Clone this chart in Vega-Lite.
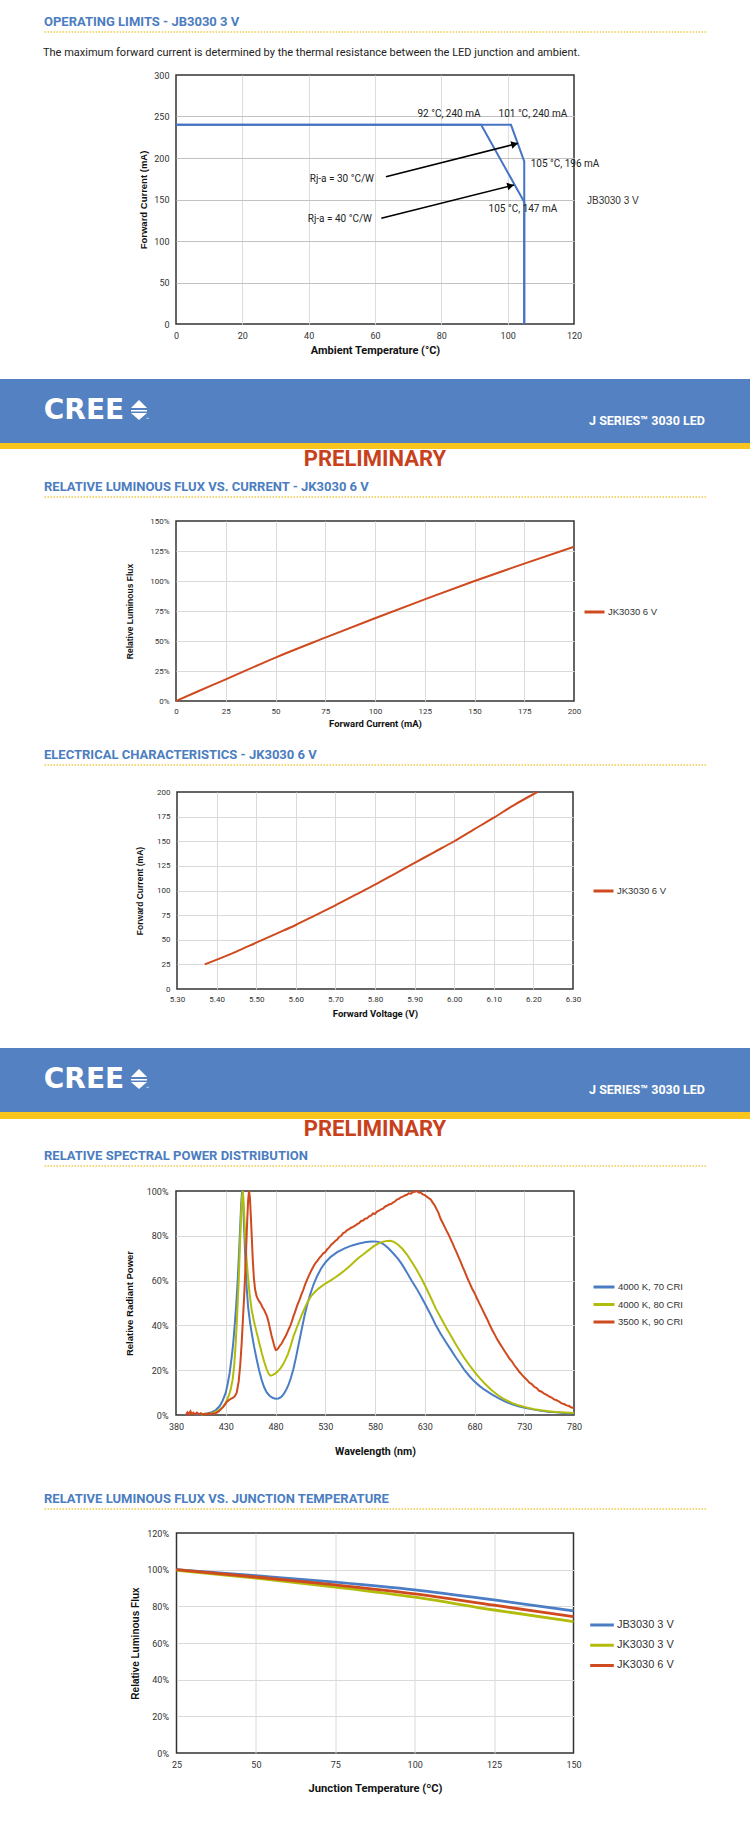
{
"$schema": "https://vega.github.io/schema/vega-lite/v6.json",
"padding": 0,
"background": "#ffffff",
"bounds": "flush",
"center": true,
"spacing": 0,
"resolve": {"scale": {"color": "independent"}, "legend": {"color": "independent"}},
"config": {
  "view": {"stroke": null},
  "font": "Roboto",
  "axis": {"ticks": false, "domain": false, "grid": true, "gridColor": "#dadada", "gridWidth": 1, "labelColor": "#333333", "labelFont": "Roboto", "labelFontSize": 9, "labelFlush": false, "labelOverlap": false, "titleColor": "#111111", "titleFontWeight": "bold"},
  "axisX": {"titleFont": "Roboto"},
  "axisY": {"titleFont": "Liberation Sans, Arial, Helvetica, sans-serif"},
  "legend": {"padding": 0, "symbolType": "stroke", "symbolSize": 400, "symbolStrokeWidth": 3, "labelOffset": 2, "labelFont": "Liberation Sans, Arial, Helvetica, sans-serif", "labelFontSize": 9.5, "labelColor": "#333333", "rowPadding": 7, "clipHeight": 10}
},
"datasets": {
  "limits": [
    {"series": "JB3030 3 V", "rja": "30 °C/W", "idx": 0, "T": 0, "I": 240},
    {"series": "JB3030 3 V", "rja": "30 °C/W", "idx": 1, "T": 101, "I": 240},
    {"series": "JB3030 3 V", "rja": "30 °C/W", "idx": 2, "T": 105, "I": 196},
    {"series": "JB3030 3 V", "rja": "30 °C/W", "idx": 3, "T": 105, "I": 0},
    {"series": "JB3030 3 V", "rja": "40 °C/W", "idx": 0, "T": 0, "I": 240},
    {"series": "JB3030 3 V", "rja": "40 °C/W", "idx": 1, "T": 92, "I": 240},
    {"series": "JB3030 3 V", "rja": "40 °C/W", "idx": 2, "T": 105, "I": 147},
    {"series": "JB3030 3 V", "rja": "40 °C/W", "idx": 3, "T": 105, "I": 0}
  ],
  "limitLabels": [
    {"label": "92 °C, 240 mA", "T": 82.3, "I": 253},
    {"label": "101 °C, 240 mA", "T": 107.6, "I": 253},
    {"label": "105 °C, 196 mA", "T": 117.3, "I": 193},
    {"label": "105 °C, 147 mA", "T": 104.6, "I": 139},
    {"label": "Rj-a = 30 °C/W", "T": 50, "I": 175},
    {"label": "Rj-a = 40 °C/W", "T": 49.4, "I": 126.5}
  ],
  "arrows": [
    {"T": 63.3, "I": 177.5, "T2": 103.1, "I2": 217.7},
    {"T": 61.9, "I": 127.3, "T2": 101.9, "I2": 167.5}
  ],
  "heads": [
    {"T": 102.1, "I": 216.7},
    {"T": 100.9, "I": 166.5}
  ],
  "fluxCurrent": [
    {"series": "JK3030 6 V", "I": 0, "flux": 0},
    {"series": "JK3030 6 V", "I": 10, "flux": 0.073},
    {"series": "JK3030 6 V", "I": 25, "flux": 0.18},
    {"series": "JK3030 6 V", "I": 50, "flux": 0.362},
    {"series": "JK3030 6 V", "I": 75, "flux": 0.528},
    {"series": "JK3030 6 V", "I": 100, "flux": 0.69},
    {"series": "JK3030 6 V", "I": 125, "flux": 0.847},
    {"series": "JK3030 6 V", "I": 150, "flux": 1.0},
    {"series": "JK3030 6 V", "I": 175, "flux": 1.145},
    {"series": "JK3030 6 V", "I": 200, "flux": 1.286}
  ],
  "ivCurve": [
    {"series": "JK3030 6 V", "V": 5.37, "I": 25},
    {"series": "JK3030 6 V", "V": 5.45, "I": 38},
    {"series": "JK3030 6 V", "V": 5.5, "I": 47},
    {"series": "JK3030 6 V", "V": 5.55, "I": 56},
    {"series": "JK3030 6 V", "V": 5.6, "I": 65},
    {"series": "JK3030 6 V", "V": 5.65, "I": 75},
    {"series": "JK3030 6 V", "V": 5.7, "I": 85},
    {"series": "JK3030 6 V", "V": 5.75, "I": 95.5},
    {"series": "JK3030 6 V", "V": 5.8, "I": 106},
    {"series": "JK3030 6 V", "V": 5.85, "I": 117},
    {"series": "JK3030 6 V", "V": 5.9, "I": 128},
    {"series": "JK3030 6 V", "V": 5.95, "I": 139},
    {"series": "JK3030 6 V", "V": 6.0, "I": 150},
    {"series": "JK3030 6 V", "V": 6.05, "I": 162},
    {"series": "JK3030 6 V", "V": 6.1, "I": 174},
    {"series": "JK3030 6 V", "V": 6.15, "I": 186.5},
    {"series": "JK3030 6 V", "V": 6.21, "I": 200}
  ],
  "spd": [
    {"s": "4000 K, 70 CRI", "w": 400, "p": 0.002},{"s": "4000 K, 70 CRI", "w": 405, "p": 0.003},{"s": "4000 K, 70 CRI", "w": 410, "p": 0.006},{"s": "4000 K, 70 CRI", "w": 415, "p": 0.011},{"s": "4000 K, 70 CRI", "w": 420, "p": 0.022},{"s": "4000 K, 70 CRI", "w": 424, "p": 0.04},{"s": "4000 K, 70 CRI", "w": 427, "p": 0.065},{"s": "4000 K, 70 CRI", "w": 430, "p": 0.1},{"s": "4000 K, 70 CRI", "w": 432, "p": 0.14},{"s": "4000 K, 70 CRI", "w": 434, "p": 0.19},{"s": "4000 K, 70 CRI", "w": 436, "p": 0.26},{"s": "4000 K, 70 CRI", "w": 437.5, "p": 0.32},{"s": "4000 K, 70 CRI", "w": 439, "p": 0.4},{"s": "4000 K, 70 CRI", "w": 440.5, "p": 0.49},{"s": "4000 K, 70 CRI", "w": 442, "p": 0.6},{"s": "4000 K, 70 CRI", "w": 443.3, "p": 0.72},{"s": "4000 K, 70 CRI", "w": 444.5, "p": 0.84},{"s": "4000 K, 70 CRI", "w": 445.5, "p": 0.94},{"s": "4000 K, 70 CRI", "w": 446.4, "p": 1.0},{"s": "4000 K, 70 CRI", "w": 447.4, "p": 0.95},{"s": "4000 K, 70 CRI", "w": 448.6, "p": 0.82},{"s": "4000 K, 70 CRI", "w": 449.8, "p": 0.69},{"s": "4000 K, 70 CRI", "w": 451, "p": 0.57},{"s": "4000 K, 70 CRI", "w": 452.5, "p": 0.48},{"s": "4000 K, 70 CRI", "w": 454.5, "p": 0.41},{"s": "4000 K, 70 CRI", "w": 456.5, "p": 0.355},{"s": "4000 K, 70 CRI", "w": 458.5, "p": 0.305},{"s": "4000 K, 70 CRI", "w": 461, "p": 0.25},{"s": "4000 K, 70 CRI", "w": 463.5, "p": 0.2},{"s": "4000 K, 70 CRI", "w": 466, "p": 0.158},{"s": "4000 K, 70 CRI", "w": 468.5, "p": 0.125},{"s": "4000 K, 70 CRI", "w": 471, "p": 0.102},{"s": "4000 K, 70 CRI", "w": 474, "p": 0.086},{"s": "4000 K, 70 CRI", "w": 477, "p": 0.077},{"s": "4000 K, 70 CRI", "w": 480, "p": 0.073},{"s": "4000 K, 70 CRI", "w": 483, "p": 0.074},{"s": "4000 K, 70 CRI", "w": 485.5, "p": 0.08},{"s": "4000 K, 70 CRI", "w": 488, "p": 0.092},{"s": "4000 K, 70 CRI", "w": 490.5, "p": 0.11},{"s": "4000 K, 70 CRI", "w": 493, "p": 0.134},{"s": "4000 K, 70 CRI", "w": 495.5, "p": 0.166},{"s": "4000 K, 70 CRI", "w": 498, "p": 0.205},{"s": "4000 K, 70 CRI", "w": 500.5, "p": 0.255},{"s": "4000 K, 70 CRI", "w": 503, "p": 0.31},{"s": "4000 K, 70 CRI", "w": 506, "p": 0.375},{"s": "4000 K, 70 CRI", "w": 509, "p": 0.44},{"s": "4000 K, 70 CRI", "w": 512, "p": 0.495},{"s": "4000 K, 70 CRI", "w": 515, "p": 0.54},{"s": "4000 K, 70 CRI", "w": 518.5, "p": 0.586},{"s": "4000 K, 70 CRI", "w": 522, "p": 0.622},{"s": "4000 K, 70 CRI", "w": 526, "p": 0.655},{"s": "4000 K, 70 CRI", "w": 530.5, "p": 0.683},{"s": "4000 K, 70 CRI", "w": 535.5, "p": 0.706},{"s": "4000 K, 70 CRI", "w": 542, "p": 0.727},{"s": "4000 K, 70 CRI", "w": 550, "p": 0.745},{"s": "4000 K, 70 CRI", "w": 557, "p": 0.757},{"s": "4000 K, 70 CRI", "w": 564, "p": 0.766},{"s": "4000 K, 70 CRI", "w": 571, "p": 0.772},{"s": "4000 K, 70 CRI", "w": 577, "p": 0.775},{"s": "4000 K, 70 CRI", "w": 582, "p": 0.774},{"s": "4000 K, 70 CRI", "w": 586, "p": 0.769},{"s": "4000 K, 70 CRI", "w": 590, "p": 0.758},{"s": "4000 K, 70 CRI", "w": 594, "p": 0.742},{"s": "4000 K, 70 CRI", "w": 598, "p": 0.723},{"s": "4000 K, 70 CRI", "w": 603, "p": 0.698},{"s": "4000 K, 70 CRI", "w": 607.5, "p": 0.67},{"s": "4000 K, 70 CRI", "w": 612.5, "p": 0.633},{"s": "4000 K, 70 CRI", "w": 617, "p": 0.598},{"s": "4000 K, 70 CRI", "w": 622, "p": 0.563},{"s": "4000 K, 70 CRI", "w": 627, "p": 0.523},{"s": "4000 K, 70 CRI", "w": 631.7, "p": 0.484},{"s": "4000 K, 70 CRI", "w": 636.5, "p": 0.443},{"s": "4000 K, 70 CRI", "w": 641, "p": 0.402},{"s": "4000 K, 70 CRI", "w": 646, "p": 0.363},{"s": "4000 K, 70 CRI", "w": 651, "p": 0.327},{"s": "4000 K, 70 CRI", "w": 656, "p": 0.293},{"s": "4000 K, 70 CRI", "w": 660.6, "p": 0.261},{"s": "4000 K, 70 CRI", "w": 665.5, "p": 0.23},{"s": "4000 K, 70 CRI", "w": 670, "p": 0.2},{"s": "4000 K, 70 CRI", "w": 675, "p": 0.173},{"s": "4000 K, 70 CRI", "w": 680, "p": 0.149},{"s": "4000 K, 70 CRI", "w": 685, "p": 0.13},{"s": "4000 K, 70 CRI", "w": 690, "p": 0.113},{"s": "4000 K, 70 CRI", "w": 697, "p": 0.093},{"s": "4000 K, 70 CRI", "w": 704, "p": 0.075},{"s": "4000 K, 70 CRI", "w": 711, "p": 0.06},{"s": "4000 K, 70 CRI", "w": 718, "p": 0.048},{"s": "4000 K, 70 CRI", "w": 725, "p": 0.038},{"s": "4000 K, 70 CRI", "w": 733, "p": 0.03},{"s": "4000 K, 70 CRI", "w": 740, "p": 0.024},{"s": "4000 K, 70 CRI", "w": 747, "p": 0.019},{"s": "4000 K, 70 CRI", "w": 754, "p": 0.015},{"s": "4000 K, 70 CRI", "w": 762, "p": 0.012},{"s": "4000 K, 70 CRI", "w": 770, "p": 0.009},{"s": "4000 K, 70 CRI", "w": 780, "p": 0.007},
    {"s": "4000 K, 80 CRI", "w": 405, "p": 0.002},{"s": "4000 K, 80 CRI", "w": 410, "p": 0.004},{"s": "4000 K, 80 CRI", "w": 415, "p": 0.007},{"s": "4000 K, 80 CRI", "w": 420, "p": 0.014},{"s": "4000 K, 80 CRI", "w": 424, "p": 0.024},{"s": "4000 K, 80 CRI", "w": 427, "p": 0.035},{"s": "4000 K, 80 CRI", "w": 430, "p": 0.055},{"s": "4000 K, 80 CRI", "w": 433, "p": 0.085},{"s": "4000 K, 80 CRI", "w": 435, "p": 0.115},{"s": "4000 K, 80 CRI", "w": 437, "p": 0.16},{"s": "4000 K, 80 CRI", "w": 438.5, "p": 0.22},{"s": "4000 K, 80 CRI", "w": 440, "p": 0.32},{"s": "4000 K, 80 CRI", "w": 441.5, "p": 0.45},{"s": "4000 K, 80 CRI", "w": 443, "p": 0.6},{"s": "4000 K, 80 CRI", "w": 444.3, "p": 0.76},{"s": "4000 K, 80 CRI", "w": 445.5, "p": 0.9},{"s": "4000 K, 80 CRI", "w": 446.5, "p": 0.98},{"s": "4000 K, 80 CRI", "w": 447.2, "p": 1.0},{"s": "4000 K, 80 CRI", "w": 448.2, "p": 0.93},{"s": "4000 K, 80 CRI", "w": 449.5, "p": 0.8},{"s": "4000 K, 80 CRI", "w": 450.8, "p": 0.7},{"s": "4000 K, 80 CRI", "w": 452.3, "p": 0.62},{"s": "4000 K, 80 CRI", "w": 454, "p": 0.54},{"s": "4000 K, 80 CRI", "w": 456, "p": 0.47},{"s": "4000 K, 80 CRI", "w": 458.5, "p": 0.415},{"s": "4000 K, 80 CRI", "w": 461, "p": 0.37},{"s": "4000 K, 80 CRI", "w": 463.5, "p": 0.325},{"s": "4000 K, 80 CRI", "w": 466, "p": 0.28},{"s": "4000 K, 80 CRI", "w": 468.5, "p": 0.24},{"s": "4000 K, 80 CRI", "w": 471, "p": 0.206},{"s": "4000 K, 80 CRI", "w": 473, "p": 0.185},{"s": "4000 K, 80 CRI", "w": 474.8, "p": 0.176},{"s": "4000 K, 80 CRI", "w": 477, "p": 0.178},{"s": "4000 K, 80 CRI", "w": 480, "p": 0.186},{"s": "4000 K, 80 CRI", "w": 482.5, "p": 0.196},{"s": "4000 K, 80 CRI", "w": 485, "p": 0.208},{"s": "4000 K, 80 CRI", "w": 487.5, "p": 0.225},{"s": "4000 K, 80 CRI", "w": 490, "p": 0.247},{"s": "4000 K, 80 CRI", "w": 492.5, "p": 0.272},{"s": "4000 K, 80 CRI", "w": 495, "p": 0.305},{"s": "4000 K, 80 CRI", "w": 498, "p": 0.35},{"s": "4000 K, 80 CRI", "w": 501.8, "p": 0.395},{"s": "4000 K, 80 CRI", "w": 506.5, "p": 0.448},{"s": "4000 K, 80 CRI", "w": 511.4, "p": 0.497},{"s": "4000 K, 80 CRI", "w": 516, "p": 0.532},{"s": "4000 K, 80 CRI", "w": 521, "p": 0.556},{"s": "4000 K, 80 CRI", "w": 525.8, "p": 0.573},{"s": "4000 K, 80 CRI", "w": 530.7, "p": 0.588},{"s": "4000 K, 80 CRI", "w": 535.5, "p": 0.601},{"s": "4000 K, 80 CRI", "w": 540.3, "p": 0.615},{"s": "4000 K, 80 CRI", "w": 545, "p": 0.63},{"s": "4000 K, 80 CRI", "w": 550, "p": 0.647},{"s": "4000 K, 80 CRI", "w": 555, "p": 0.666},{"s": "4000 K, 80 CRI", "w": 559.5, "p": 0.685},{"s": "4000 K, 80 CRI", "w": 564, "p": 0.703},{"s": "4000 K, 80 CRI", "w": 569, "p": 0.72},{"s": "4000 K, 80 CRI", "w": 574, "p": 0.737},{"s": "4000 K, 80 CRI", "w": 578.8, "p": 0.754},{"s": "4000 K, 80 CRI", "w": 583.6, "p": 0.766},{"s": "4000 K, 80 CRI", "w": 588.4, "p": 0.774},{"s": "4000 K, 80 CRI", "w": 592, "p": 0.777},{"s": "4000 K, 80 CRI", "w": 595.6, "p": 0.778},{"s": "4000 K, 80 CRI", "w": 599, "p": 0.773},{"s": "4000 K, 80 CRI", "w": 603, "p": 0.761},{"s": "4000 K, 80 CRI", "w": 607.7, "p": 0.741},{"s": "4000 K, 80 CRI", "w": 612.5, "p": 0.714},{"s": "4000 K, 80 CRI", "w": 617, "p": 0.683},{"s": "4000 K, 80 CRI", "w": 622, "p": 0.647},{"s": "4000 K, 80 CRI", "w": 627, "p": 0.607},{"s": "4000 K, 80 CRI", "w": 631.7, "p": 0.565},{"s": "4000 K, 80 CRI", "w": 636.5, "p": 0.52},{"s": "4000 K, 80 CRI", "w": 641, "p": 0.476},{"s": "4000 K, 80 CRI", "w": 646, "p": 0.435},{"s": "4000 K, 80 CRI", "w": 651, "p": 0.394},{"s": "4000 K, 80 CRI", "w": 656, "p": 0.356},{"s": "4000 K, 80 CRI", "w": 660.6, "p": 0.32},{"s": "4000 K, 80 CRI", "w": 665.5, "p": 0.285},{"s": "4000 K, 80 CRI", "w": 670, "p": 0.253},{"s": "4000 K, 80 CRI", "w": 675, "p": 0.222},{"s": "4000 K, 80 CRI", "w": 680, "p": 0.193},{"s": "4000 K, 80 CRI", "w": 685, "p": 0.166},{"s": "4000 K, 80 CRI", "w": 690, "p": 0.142},{"s": "4000 K, 80 CRI", "w": 697, "p": 0.112},{"s": "4000 K, 80 CRI", "w": 704, "p": 0.087},{"s": "4000 K, 80 CRI", "w": 711, "p": 0.068},{"s": "4000 K, 80 CRI", "w": 718, "p": 0.053},{"s": "4000 K, 80 CRI", "w": 725, "p": 0.042},{"s": "4000 K, 80 CRI", "w": 733, "p": 0.033},{"s": "4000 K, 80 CRI", "w": 740, "p": 0.026},{"s": "4000 K, 80 CRI", "w": 747, "p": 0.021},{"s": "4000 K, 80 CRI", "w": 754, "p": 0.017},{"s": "4000 K, 80 CRI", "w": 762, "p": 0.013},{"s": "4000 K, 80 CRI", "w": 770, "p": 0.011},{"s": "4000 K, 80 CRI", "w": 780, "p": 0.009},
    {"s": "3500 K, 90 CRI", "w": 390, "p": 0.0},{"s": "3500 K, 90 CRI", "w": 391.5, "p": 0.012},{"s": "3500 K, 90 CRI", "w": 393, "p": 0.003},{"s": "3500 K, 90 CRI", "w": 394.5, "p": 0.016},{"s": "3500 K, 90 CRI", "w": 396, "p": 0.004},{"s": "3500 K, 90 CRI", "w": 397.5, "p": 0.01},{"s": "3500 K, 90 CRI", "w": 399, "p": 0.002},{"s": "3500 K, 90 CRI", "w": 401, "p": 0.011},{"s": "3500 K, 90 CRI", "w": 403, "p": 0.003},{"s": "3500 K, 90 CRI", "w": 405, "p": 0.008},{"s": "3500 K, 90 CRI", "w": 407, "p": 0.002},{"s": "3500 K, 90 CRI", "w": 409, "p": 0.006},{"s": "3500 K, 90 CRI", "w": 411, "p": 0.003},{"s": "3500 K, 90 CRI", "w": 413, "p": 0.007},{"s": "3500 K, 90 CRI", "w": 415, "p": 0.004},{"s": "3500 K, 90 CRI", "w": 417, "p": 0.008},{"s": "3500 K, 90 CRI", "w": 419, "p": 0.006},{"s": "3500 K, 90 CRI", "w": 421, "p": 0.011},{"s": "3500 K, 90 CRI", "w": 423, "p": 0.016},{"s": "3500 K, 90 CRI", "w": 425, "p": 0.025},{"s": "3500 K, 90 CRI", "w": 427, "p": 0.034},{"s": "3500 K, 90 CRI", "w": 429, "p": 0.045},{"s": "3500 K, 90 CRI", "w": 431, "p": 0.058},{"s": "3500 K, 90 CRI", "w": 433, "p": 0.066},{"s": "3500 K, 90 CRI", "w": 435, "p": 0.072},{"s": "3500 K, 90 CRI", "w": 437, "p": 0.076},{"s": "3500 K, 90 CRI", "w": 439, "p": 0.083},{"s": "3500 K, 90 CRI", "w": 441, "p": 0.1},{"s": "3500 K, 90 CRI", "w": 443, "p": 0.15},{"s": "3500 K, 90 CRI", "w": 444.5, "p": 0.22},{"s": "3500 K, 90 CRI", "w": 446, "p": 0.32},{"s": "3500 K, 90 CRI", "w": 447.3, "p": 0.43},{"s": "3500 K, 90 CRI", "w": 448.5, "p": 0.53},{"s": "3500 K, 90 CRI", "w": 449.5, "p": 0.63},{"s": "3500 K, 90 CRI", "w": 450.5, "p": 0.74},{"s": "3500 K, 90 CRI", "w": 451.5, "p": 0.86},{"s": "3500 K, 90 CRI", "w": 452.5, "p": 0.96},{"s": "3500 K, 90 CRI", "w": 453.4, "p": 1.0},{"s": "3500 K, 90 CRI", "w": 454.3, "p": 0.97},{"s": "3500 K, 90 CRI", "w": 455.2, "p": 0.89},{"s": "3500 K, 90 CRI", "w": 456.2, "p": 0.79},{"s": "3500 K, 90 CRI", "w": 457.2, "p": 0.69},{"s": "3500 K, 90 CRI", "w": 458.3, "p": 0.61},{"s": "3500 K, 90 CRI", "w": 459.5, "p": 0.56},{"s": "3500 K, 90 CRI", "w": 461, "p": 0.53},{"s": "3500 K, 90 CRI", "w": 462.5, "p": 0.515},{"s": "3500 K, 90 CRI", "w": 464, "p": 0.505},{"s": "3500 K, 90 CRI", "w": 465.5, "p": 0.495},{"s": "3500 K, 90 CRI", "w": 467, "p": 0.48},{"s": "3500 K, 90 CRI", "w": 468.5, "p": 0.47},{"s": "3500 K, 90 CRI", "w": 470, "p": 0.455},{"s": "3500 K, 90 CRI", "w": 471.5, "p": 0.44},{"s": "3500 K, 90 CRI", "w": 473, "p": 0.415},{"s": "3500 K, 90 CRI", "w": 474.5, "p": 0.385},{"s": "3500 K, 90 CRI", "w": 476, "p": 0.355},{"s": "3500 K, 90 CRI", "w": 477.5, "p": 0.33},{"s": "3500 K, 90 CRI", "w": 479, "p": 0.305},{"s": "3500 K, 90 CRI", "w": 480.3, "p": 0.29},{"s": "3500 K, 90 CRI", "w": 481.5, "p": 0.292},{"s": "3500 K, 90 CRI", "w": 483, "p": 0.3},{"s": "3500 K, 90 CRI", "w": 484.5, "p": 0.31},{"s": "3500 K, 90 CRI", "w": 486, "p": 0.318},{"s": "3500 K, 90 CRI", "w": 487.5, "p": 0.33},{"s": "3500 K, 90 CRI", "w": 489, "p": 0.343},{"s": "3500 K, 90 CRI", "w": 490.5, "p": 0.355},{"s": "3500 K, 90 CRI", "w": 492, "p": 0.37},{"s": "3500 K, 90 CRI", "w": 493.5, "p": 0.385},{"s": "3500 K, 90 CRI", "w": 495, "p": 0.4},{"s": "3500 K, 90 CRI", "w": 496.5, "p": 0.418},{"s": "3500 K, 90 CRI", "w": 498, "p": 0.44},{"s": "3500 K, 90 CRI", "w": 499.5, "p": 0.458},{"s": "3500 K, 90 CRI", "w": 501, "p": 0.478},{"s": "3500 K, 90 CRI", "w": 502.5, "p": 0.497},{"s": "3500 K, 90 CRI", "w": 504, "p": 0.513},{"s": "3500 K, 90 CRI", "w": 506, "p": 0.537},{"s": "3500 K, 90 CRI", "w": 508, "p": 0.56},{"s": "3500 K, 90 CRI", "w": 510, "p": 0.585},{"s": "3500 K, 90 CRI", "w": 512, "p": 0.607},{"s": "3500 K, 90 CRI", "w": 514, "p": 0.627},{"s": "3500 K, 90 CRI", "w": 516, "p": 0.645},{"s": "3500 K, 90 CRI", "w": 518, "p": 0.662},{"s": "3500 K, 90 CRI", "w": 520, "p": 0.677},{"s": "3500 K, 90 CRI", "w": 522, "p": 0.688},{"s": "3500 K, 90 CRI", "w": 524, "p": 0.7},{"s": "3500 K, 90 CRI", "w": 526, "p": 0.71},{"s": "3500 K, 90 CRI", "w": 528, "p": 0.722},{"s": "3500 K, 90 CRI", "w": 530, "p": 0.727},{"s": "3500 K, 90 CRI", "w": 532, "p": 0.74},{"s": "3500 K, 90 CRI", "w": 534, "p": 0.748},{"s": "3500 K, 90 CRI", "w": 536, "p": 0.76},{"s": "3500 K, 90 CRI", "w": 538, "p": 0.768},{"s": "3500 K, 90 CRI", "w": 540, "p": 0.777},{"s": "3500 K, 90 CRI", "w": 542, "p": 0.783},{"s": "3500 K, 90 CRI", "w": 544, "p": 0.795},{"s": "3500 K, 90 CRI", "w": 546, "p": 0.8},{"s": "3500 K, 90 CRI", "w": 548, "p": 0.812},{"s": "3500 K, 90 CRI", "w": 550, "p": 0.816},{"s": "3500 K, 90 CRI", "w": 552, "p": 0.826},{"s": "3500 K, 90 CRI", "w": 554, "p": 0.83},{"s": "3500 K, 90 CRI", "w": 556, "p": 0.836},{"s": "3500 K, 90 CRI", "w": 558, "p": 0.84},{"s": "3500 K, 90 CRI", "w": 560, "p": 0.845},{"s": "3500 K, 90 CRI", "w": 562, "p": 0.852},{"s": "3500 K, 90 CRI", "w": 564, "p": 0.856},{"s": "3500 K, 90 CRI", "w": 566, "p": 0.866},{"s": "3500 K, 90 CRI", "w": 568, "p": 0.868},{"s": "3500 K, 90 CRI", "w": 570, "p": 0.876},{"s": "3500 K, 90 CRI", "w": 572, "p": 0.878},{"s": "3500 K, 90 CRI", "w": 574, "p": 0.887},{"s": "3500 K, 90 CRI", "w": 576, "p": 0.89},{"s": "3500 K, 90 CRI", "w": 578, "p": 0.9},{"s": "3500 K, 90 CRI", "w": 580, "p": 0.898},{"s": "3500 K, 90 CRI", "w": 582, "p": 0.908},{"s": "3500 K, 90 CRI", "w": 584, "p": 0.912},{"s": "3500 K, 90 CRI", "w": 586, "p": 0.918},{"s": "3500 K, 90 CRI", "w": 588, "p": 0.921},{"s": "3500 K, 90 CRI", "w": 590, "p": 0.93},{"s": "3500 K, 90 CRI", "w": 592, "p": 0.934},{"s": "3500 K, 90 CRI", "w": 594, "p": 0.94},{"s": "3500 K, 90 CRI", "w": 596, "p": 0.942},{"s": "3500 K, 90 CRI", "w": 598, "p": 0.948},{"s": "3500 K, 90 CRI", "w": 600, "p": 0.953},{"s": "3500 K, 90 CRI", "w": 602, "p": 0.962},{"s": "3500 K, 90 CRI", "w": 604, "p": 0.965},{"s": "3500 K, 90 CRI", "w": 606, "p": 0.972},{"s": "3500 K, 90 CRI", "w": 608, "p": 0.975},{"s": "3500 K, 90 CRI", "w": 610, "p": 0.98},{"s": "3500 K, 90 CRI", "w": 612, "p": 0.983},{"s": "3500 K, 90 CRI", "w": 614, "p": 0.99},{"s": "3500 K, 90 CRI", "w": 616, "p": 0.988},{"s": "3500 K, 90 CRI", "w": 618, "p": 0.995},{"s": "3500 K, 90 CRI", "w": 620, "p": 0.997},{"s": "3500 K, 90 CRI", "w": 622, "p": 1.0},{"s": "3500 K, 90 CRI", "w": 624, "p": 0.993},{"s": "3500 K, 90 CRI", "w": 626, "p": 0.992},{"s": "3500 K, 90 CRI", "w": 628, "p": 0.985},{"s": "3500 K, 90 CRI", "w": 630, "p": 0.982},{"s": "3500 K, 90 CRI", "w": 632, "p": 0.975},{"s": "3500 K, 90 CRI", "w": 634, "p": 0.968},{"s": "3500 K, 90 CRI", "w": 636, "p": 0.962},{"s": "3500 K, 90 CRI", "w": 638, "p": 0.948},{"s": "3500 K, 90 CRI", "w": 640, "p": 0.935},{"s": "3500 K, 90 CRI", "w": 642, "p": 0.918},{"s": "3500 K, 90 CRI", "w": 644, "p": 0.9},{"s": "3500 K, 90 CRI", "w": 646, "p": 0.875},{"s": "3500 K, 90 CRI", "w": 648, "p": 0.858},{"s": "3500 K, 90 CRI", "w": 650, "p": 0.84},{"s": "3500 K, 90 CRI", "w": 652, "p": 0.822},{"s": "3500 K, 90 CRI", "w": 654, "p": 0.805},{"s": "3500 K, 90 CRI", "w": 656, "p": 0.785},{"s": "3500 K, 90 CRI", "w": 658, "p": 0.766},{"s": "3500 K, 90 CRI", "w": 660, "p": 0.745},{"s": "3500 K, 90 CRI", "w": 662, "p": 0.726},{"s": "3500 K, 90 CRI", "w": 664, "p": 0.705},{"s": "3500 K, 90 CRI", "w": 666, "p": 0.685},{"s": "3500 K, 90 CRI", "w": 668, "p": 0.662},{"s": "3500 K, 90 CRI", "w": 670, "p": 0.642},{"s": "3500 K, 90 CRI", "w": 672.5, "p": 0.615},{"s": "3500 K, 90 CRI", "w": 675, "p": 0.59},{"s": "3500 K, 90 CRI", "w": 677.5, "p": 0.565},{"s": "3500 K, 90 CRI", "w": 680, "p": 0.545},{"s": "3500 K, 90 CRI", "w": 682.5, "p": 0.52},{"s": "3500 K, 90 CRI", "w": 685, "p": 0.497},{"s": "3500 K, 90 CRI", "w": 687.5, "p": 0.475},{"s": "3500 K, 90 CRI", "w": 690, "p": 0.452},{"s": "3500 K, 90 CRI", "w": 692.5, "p": 0.43},{"s": "3500 K, 90 CRI", "w": 695, "p": 0.405},{"s": "3500 K, 90 CRI", "w": 697.5, "p": 0.382},{"s": "3500 K, 90 CRI", "w": 700, "p": 0.362},{"s": "3500 K, 90 CRI", "w": 702.5, "p": 0.34},{"s": "3500 K, 90 CRI", "w": 705, "p": 0.322},{"s": "3500 K, 90 CRI", "w": 707.5, "p": 0.305},{"s": "3500 K, 90 CRI", "w": 710, "p": 0.287},{"s": "3500 K, 90 CRI", "w": 712.5, "p": 0.27},{"s": "3500 K, 90 CRI", "w": 715, "p": 0.253},{"s": "3500 K, 90 CRI", "w": 717.5, "p": 0.24},{"s": "3500 K, 90 CRI", "w": 720, "p": 0.222},{"s": "3500 K, 90 CRI", "w": 722.5, "p": 0.208},{"s": "3500 K, 90 CRI", "w": 725, "p": 0.193},{"s": "3500 K, 90 CRI", "w": 727.5, "p": 0.18},{"s": "3500 K, 90 CRI", "w": 730, "p": 0.168},{"s": "3500 K, 90 CRI", "w": 732.5, "p": 0.158},{"s": "3500 K, 90 CRI", "w": 735, "p": 0.145},{"s": "3500 K, 90 CRI", "w": 737.5, "p": 0.138},{"s": "3500 K, 90 CRI", "w": 740, "p": 0.126},{"s": "3500 K, 90 CRI", "w": 742.5, "p": 0.12},{"s": "3500 K, 90 CRI", "w": 745, "p": 0.108},{"s": "3500 K, 90 CRI", "w": 747.5, "p": 0.104},{"s": "3500 K, 90 CRI", "w": 750, "p": 0.095},{"s": "3500 K, 90 CRI", "w": 752.5, "p": 0.09},{"s": "3500 K, 90 CRI", "w": 755, "p": 0.083},{"s": "3500 K, 90 CRI", "w": 757.5, "p": 0.078},{"s": "3500 K, 90 CRI", "w": 760, "p": 0.07},{"s": "3500 K, 90 CRI", "w": 762.5, "p": 0.066},{"s": "3500 K, 90 CRI", "w": 765, "p": 0.06},{"s": "3500 K, 90 CRI", "w": 767.5, "p": 0.052},{"s": "3500 K, 90 CRI", "w": 770, "p": 0.049},{"s": "3500 K, 90 CRI", "w": 772.5, "p": 0.043},{"s": "3500 K, 90 CRI", "w": 775, "p": 0.04},{"s": "3500 K, 90 CRI", "w": 777.5, "p": 0.033},{"s": "3500 K, 90 CRI", "w": 780, "p": 0.031}
  ],
  "fluxTemp": [
    {"s": "JB3030 3 V", "Tj": 25, "f": 1.0},{"s": "JB3030 3 V", "Tj": 50, "f": 0.967},{"s": "JB3030 3 V", "Tj": 75, "f": 0.932},{"s": "JB3030 3 V", "Tj": 100, "f": 0.89},{"s": "JB3030 3 V", "Tj": 125, "f": 0.835},{"s": "JB3030 3 V", "Tj": 150, "f": 0.775},
    {"s": "JK3030 3 V", "Tj": 25, "f": 0.997},{"s": "JK3030 3 V", "Tj": 50, "f": 0.954},{"s": "JK3030 3 V", "Tj": 75, "f": 0.905},{"s": "JK3030 3 V", "Tj": 100, "f": 0.85},{"s": "JK3030 3 V", "Tj": 125, "f": 0.78},{"s": "JK3030 3 V", "Tj": 150, "f": 0.717},
    {"s": "JK3030 6 V", "Tj": 25, "f": 1.0},{"s": "JK3030 6 V", "Tj": 50, "f": 0.96},{"s": "JK3030 6 V", "Tj": 75, "f": 0.917},{"s": "JK3030 6 V", "Tj": 100, "f": 0.868},{"s": "JK3030 6 V", "Tj": 125, "f": 0.806},{"s": "JK3030 6 V", "Tj": 150, "f": 0.744}
  ]
},
"vconcat": [
  {"width": 750, "height": 32, "data": {"values": []}, "mark": "rect", "encoding": {}},
  {"width": 662, "height": 43, "data": {"values": [{}]},
   "mark": {"type": "rule", "color": "#F0CD45", "strokeDash": [1.5, 1.5], "strokeWidth": 1.5},
   "encoding": {"y": {"datum": 1, "type": "quantitative", "scale": {"domain": [0, 1]}, "axis": null}},
   "title": {"text": "OPERATING LIMITS - JB3030 3 V", "anchor": "start", "frame": "group", "offset": 2, "font": "Roboto", "fontSize": 13, "fontWeight": "bold", "color": "#4B7DC0"}},
  {"width": 398, "height": 249,
   "view": {"stroke": "#333333", "strokeWidth": 1.5},
   "title": {"text": "The maximum forward current is determined by the thermal resistance between the LED junction and ambient.", "anchor": "start", "frame": "group", "dx": -133, "offset": 13, "font": "Roboto", "fontSize": 11, "fontWeight": "normal", "color": "#222222"},
   "layer": [
     {"data": {"name": "limits"},
      "mark": {"type": "line", "strokeWidth": 2},
      "encoding": {
        "x": {"field": "T", "type": "quantitative", "title": "Ambient Temperature (°C)", "scale": {"domain": [0, 120]},
              "axis": {"values": [0, 20, 40, 60, 80, 100, 120], "labelFontSize": 9, "labelPadding": 7, "titleFontSize": 11, "titlePadding": 4, "gridColor": "#dddddd", "gridOpacity": {"condition": {"test": "datum.value <= 0 || datum.value >= 120", "value": 0}, "value": 1}}},
        "y": {"field": "I", "type": "quantitative", "title": "Forward Current (mA)", "scale": {"domain": [0, 300]},
              "axis": {"values": [0, 50, 100, 150, 200, 250, 300], "labelFontSize": 9, "labelPadding": 7, "titleFontSize": 9.5, "titlePadding": 5, "gridColor": "#c2c2c2", "gridWidth": 1.2, "gridOpacity": {"condition": {"test": "datum.value <= 0 || datum.value >= 300", "value": 0}, "value": 1}}},
        "color": {"field": "series", "type": "nominal", "scale": {"range": ["#4674C2"]}, "legend": {"title": null, "orient": "none", "legendX": 386, "legendY": 121, "symbolOpacity": 0, "labelFontSize": 10}},
        "detail": {"field": "rja", "type": "nominal"},
        "order": {"field": "idx", "type": "quantitative"}
      }},
     {"data": {"name": "limitLabels"},
      "mark": {"type": "text", "font": "Roboto", "fontSize": 10, "color": "#222222"},
      "encoding": {
        "x": {"field": "T", "type": "quantitative", "title": "Ambient Temperature (°C)"},
        "y": {"field": "I", "type": "quantitative", "title": "Forward Current (mA)"},
        "text": {"field": "label"}
      }},
     {"data": {"name": "arrows"},
      "mark": {"type": "rule", "color": "#000000", "strokeWidth": 1.6},
      "encoding": {
        "x": {"field": "T", "type": "quantitative", "title": "Ambient Temperature (°C)"},
        "y": {"field": "I", "type": "quantitative", "title": "Forward Current (mA)"},
        "x2": {"field": "T2"},
        "y2": {"field": "I2"}
      }},
     {"data": {"name": "heads"},
      "mark": {"type": "point", "shape": "triangle-up", "angle": 76, "filled": true, "color": "#000000", "opacity": 1, "size": 60},
      "encoding": {
        "x": {"field": "T", "type": "quantitative", "title": "Ambient Temperature (°C)"},
        "y": {"field": "I", "type": "quantitative", "title": "Forward Current (mA)"}
      }}
   ]},
  {"width": 750, "height": 55, "data": {"values": []}, "mark": "rect", "encoding": {}},
  {"width": 750, "height": 64, "view": {"fill": "#5381C1", "stroke": null},
   "layer": [
     {"data": {"values": [{"t": "CREE"}]}, "mark": {"type": "text", "font": "DejaVu Sans", "fontWeight": "bold", "fontSize": 28, "color": "#ffffff", "align": "center", "baseline": "middle", "dx": -291}, "encoding": {"text": {"field": "t"}}},
     {"data": {"values": [{"t": "logo"}]}, "mark": {"type": "point", "shape": "M-0.73,-0.27L0.73,-0.27L0,-1Z M-0.73,-0.09H0.73V0.05H-0.73Z M-0.73,0.18L0.73,0.18L0,0.82Z", "size": 484, "filled": true, "color": "#ffffff", "opacity": 1, "strokeWidth": 0, "xOffset": -236}, "encoding": {}},
     {"data": {"values": [{"t": "™"}]}, "mark": {"type": "text", "font": "Roboto", "fontSize": 5, "color": "#ffffff", "align": "left", "baseline": "middle", "dx": -229, "dy": 8}, "encoding": {"text": {"field": "t"}}},
     {"data": {"values": [{"t": "J SERIES™ 3030 LED"}]}, "mark": {"type": "text", "font": "Roboto", "fontWeight": "bold", "fontSize": 12.5, "color": "#ffffff", "align": "center", "baseline": "middle", "dx": 272, "dy": 10}, "encoding": {"text": {"field": "t"}}}
   ]},
  {"width": 750, "height": 6, "view": {"fill": "#F7C51E", "stroke": null}, "data": {"values": []}, "mark": "rect", "encoding": {},
   "title": {"text": "PRELIMINARY", "orient": "bottom", "anchor": "middle", "offset": 0, "font": "Roboto", "fontSize": 22, "fontWeight": "bold", "color": "#C8411B"}},
  {"width": 750, "height": 48, "data": {"values": []}, "mark": "rect", "encoding": {}},
  {"width": 662, "height": 24, "data": {"values": [{}]},
   "mark": {"type": "rule", "color": "#F0CD45", "strokeDash": [1.5, 1.5], "strokeWidth": 1.5},
   "encoding": {"y": {"datum": 1, "type": "quantitative", "scale": {"domain": [0, 1]}, "axis": null}},
   "title": {"text": "RELATIVE LUMINOUS FLUX VS. CURRENT - JK3030 6 V", "anchor": "start", "frame": "group", "offset": 2, "font": "Roboto", "fontSize": 13, "fontWeight": "bold", "color": "#4B7DC0"}},
  {"width": 398, "height": 180,
   "view": {"stroke": "#333333", "strokeWidth": 1.5},
   "data": {"name": "fluxCurrent"},
   "mark": {"type": "line", "strokeWidth": 2, "interpolate": "monotone"},
   "encoding": {
     "x": {"field": "I", "type": "quantitative", "title": "Forward Current (mA)", "scale": {"domain": [0, 200]},
           "axis": {"values": [0, 25, 50, 75, 100, 125, 150, 175, 200], "labelFontSize": 8, "labelPadding": 6, "titleFontSize": 9.5, "titlePadding": 3, "gridOpacity": {"condition": {"test": "datum.value <= 0 || datum.value >= 200", "value": 0}, "value": 1}}},
     "y": {"field": "flux", "type": "quantitative", "title": "Relative Luminous Flux", "scale": {"domain": [0, 1.5]},
           "axis": {"values": [0, 0.25, 0.5, 0.75, 1, 1.25, 1.5], "format": ".0%", "labelFontSize": 8, "labelPadding": 7, "titleFontSize": 8.5, "titlePadding": 15, "gridOpacity": {"condition": {"test": "datum.value <= 0 || datum.value >= 1.5", "value": 0}, "value": 1}}},
     "color": {"field": "series", "type": "nominal", "scale": {"range": ["#CF4A1E"]}, "legend": {"title": null, "orient": "none", "legendX": 407, "legendY": 86}}
   }},
  {"width": 750, "height": 64, "data": {"values": []}, "mark": "rect", "encoding": {}},
  {"width": 662, "height": 27, "data": {"values": [{}]},
   "mark": {"type": "rule", "color": "#F0CD45", "strokeDash": [1.5, 1.5], "strokeWidth": 1.5},
   "encoding": {"y": {"datum": 1, "type": "quantitative", "scale": {"domain": [0, 1]}, "axis": null}},
   "title": {"text": "ELECTRICAL CHARACTERISTICS - JK3030 6 V", "anchor": "start", "frame": "group", "offset": 2, "font": "Roboto", "fontSize": 13, "fontWeight": "bold", "color": "#4B7DC0"}},
  {"width": 396, "height": 197,
   "view": {"stroke": "#333333", "strokeWidth": 1.5},
   "data": {"name": "ivCurve"},
   "mark": {"type": "line", "strokeWidth": 2, "interpolate": "monotone"},
   "encoding": {
     "x": {"field": "V", "type": "quantitative", "title": "Forward Voltage (V)", "scale": {"domain": [5.3, 6.3]},
           "axis": {"values": [5.3, 5.4, 5.5, 5.6, 5.7, 5.8, 5.9, 6.0, 6.1, 6.2, 6.3], "format": ".2f", "labelFontSize": 8, "labelPadding": 6, "titleFontSize": 9.5, "titlePadding": 5, "gridOpacity": {"condition": {"test": "datum.value < 5.31 || datum.value > 6.29", "value": 0}, "value": 1}}},
     "y": {"field": "I", "type": "quantitative", "title": "Forward Current (mA)", "scale": {"domain": [0, 200]},
           "axis": {"values": [0, 25, 50, 75, 100, 125, 150, 175, 200], "labelFontSize": 8, "labelPadding": 7, "titleFontSize": 8.5, "titlePadding": 12, "gridOpacity": {"condition": {"test": "datum.value <= 0 || datum.value >= 200", "value": 0}, "value": 1}}},
     "color": {"field": "series", "type": "nominal", "scale": {"range": ["#CF4A1E"]}, "legend": {"title": null, "orient": "none", "legendX": 415, "legendY": 94}}
   }},
  {"width": 750, "height": 59, "data": {"values": []}, "mark": "rect", "encoding": {}},
  {"width": 750, "height": 64, "view": {"fill": "#5381C1", "stroke": null},
   "layer": [
     {"data": {"values": [{"t": "CREE"}]}, "mark": {"type": "text", "font": "DejaVu Sans", "fontWeight": "bold", "fontSize": 28, "color": "#ffffff", "align": "center", "baseline": "middle", "dx": -291}, "encoding": {"text": {"field": "t"}}},
     {"data": {"values": [{"t": "logo"}]}, "mark": {"type": "point", "shape": "M-0.73,-0.27L0.73,-0.27L0,-1Z M-0.73,-0.09H0.73V0.05H-0.73Z M-0.73,0.18L0.73,0.18L0,0.82Z", "size": 484, "filled": true, "color": "#ffffff", "opacity": 1, "strokeWidth": 0, "xOffset": -236}, "encoding": {}},
     {"data": {"values": [{"t": "™"}]}, "mark": {"type": "text", "font": "Roboto", "fontSize": 5, "color": "#ffffff", "align": "left", "baseline": "middle", "dx": -229, "dy": 8}, "encoding": {"text": {"field": "t"}}},
     {"data": {"values": [{"t": "J SERIES™ 3030 LED"}]}, "mark": {"type": "text", "font": "Roboto", "fontWeight": "bold", "fontSize": 12.5, "color": "#ffffff", "align": "center", "baseline": "middle", "dx": 272, "dy": 10}, "encoding": {"text": {"field": "t"}}}
   ]},
  {"width": 750, "height": 7, "view": {"fill": "#F7C51E", "stroke": null}, "data": {"values": []}, "mark": "rect", "encoding": {},
   "title": {"text": "PRELIMINARY", "orient": "bottom", "anchor": "middle", "offset": 0, "font": "Roboto", "fontSize": 22, "fontWeight": "bold", "color": "#C8411B"}},
  {"width": 750, "height": 47, "data": {"values": []}, "mark": "rect", "encoding": {}},
  {"width": 662, "height": 25, "data": {"values": [{}]},
   "mark": {"type": "rule", "color": "#F0CD45", "strokeDash": [1.5, 1.5], "strokeWidth": 1.5},
   "encoding": {"y": {"datum": 1, "type": "quantitative", "scale": {"domain": [0, 1]}, "axis": null}},
   "title": {"text": "RELATIVE SPECTRAL POWER DISTRIBUTION", "anchor": "start", "frame": "group", "offset": 2, "font": "Roboto", "fontSize": 13, "fontWeight": "bold", "color": "#4B7DC0"}},
  {"width": 398, "height": 224,
   "view": {"stroke": "#333333", "strokeWidth": 1.5},
   "data": {"name": "spd"},
   "mark": {"type": "line", "strokeWidth": 2},
   "encoding": {
     "x": {"field": "w", "type": "quantitative", "title": "Wavelength (nm)", "scale": {"domain": [380, 780]},
           "axis": {"values": [380, 430, 480, 530, 580, 630, 680, 730, 780], "labelFontSize": 9, "labelPadding": 7, "titleFontSize": 10.6, "titlePadding": 15, "gridOpacity": {"condition": {"test": "datum.value <= 380 || datum.value >= 780", "value": 0}, "value": 1}}},
     "y": {"field": "p", "type": "quantitative", "title": "Relative Radiant Power", "scale": {"domain": [0, 1]},
           "axis": {"values": [0, 0.2, 0.4, 0.6, 0.8, 1], "format": ".0%", "labelFontSize": 9, "labelPadding": 8, "titleFontSize": 9.5, "titlePadding": 12, "gridOpacity": {"condition": {"test": "datum.value <= 0 || datum.value >= 1", "value": 0}, "value": 1}}},
     "color": {"field": "s", "type": "nominal", "scale": {"domain": ["4000 K, 70 CRI", "4000 K, 80 CRI", "3500 K, 90 CRI"], "range": ["#4A7DC4", "#B2BC0C", "#CF4A1E"]}, "legend": {"title": null, "orient": "none", "legendX": 416, "legendY": 91, "symbolSize": 441, "rowPadding": 7.5}}
   }},
  {"width": 750, "height": 94, "data": {"values": []}, "mark": "rect", "encoding": {}},
  {"width": 662, "height": 24, "data": {"values": [{}]},
   "mark": {"type": "rule", "color": "#F0CD45", "strokeDash": [1.5, 1.5], "strokeWidth": 1.5},
   "encoding": {"y": {"datum": 1, "type": "quantitative", "scale": {"domain": [0, 1]}, "axis": null}},
   "title": {"text": "RELATIVE LUMINOUS FLUX VS. JUNCTION TEMPERATURE", "anchor": "start", "frame": "group", "offset": 2, "font": "Roboto", "fontSize": 13, "fontWeight": "bold", "color": "#4B7DC0"}},
  {"width": 397, "height": 220,
   "view": {"stroke": "#333333", "strokeWidth": 1.5},
   "data": {"name": "fluxTemp"},
   "mark": {"type": "line", "strokeWidth": 2.8, "interpolate": "monotone"},
   "encoding": {
     "x": {"field": "Tj", "type": "quantitative", "title": "Junction Temperature (ºC)", "scale": {"domain": [25, 150]},
           "axis": {"values": [25, 50, 75, 100, 125, 150], "labelFontSize": 9, "labelPadding": 7, "titleFontSize": 11.2, "titlePadding": 13, "gridOpacity": {"condition": {"test": "datum.value <= 25 || datum.value >= 150", "value": 0}, "value": 1}}},
     "y": {"field": "f", "type": "quantitative", "title": "Relative Luminous Flux", "scale": {"domain": [0, 1.2]},
           "axis": {"values": [0, 0.2, 0.4, 0.6, 0.8, 1, 1.2], "format": ".0%", "labelFontSize": 9, "labelPadding": 8, "titleFontSize": 10, "titlePadding": 6, "gridOpacity": {"condition": {"test": "datum.value <= 0 || datum.value >= 1.2", "value": 0}, "value": 1}}},
     "color": {"field": "s", "type": "nominal", "scale": {"domain": ["JB3030 3 V", "JK3030 3 V", "JK3030 6 V"], "range": ["#4A7DC4", "#B2BC0C", "#CF4A1E"]}, "legend": {"title": null, "orient": "none", "legendX": 412, "legendY": 87, "symbolSize": 560, "rowPadding": 9.2, "labelFontSize": 11, "labelOffset": 1.5}}
   }},
  {"width": 750, "height": 80, "data": {"values": []}, "mark": "rect", "encoding": {}}
]
}
